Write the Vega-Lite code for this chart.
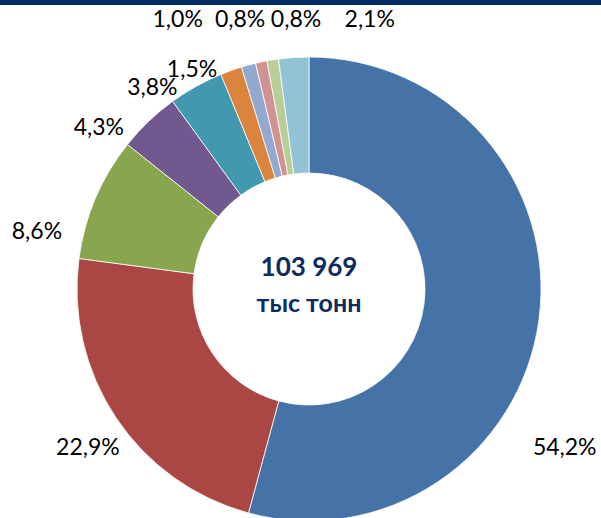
{
  "$schema": "https://vega.github.io/schema/vega-lite/v6.json",
  "autosize": {"type": "none"},
  "width": 584,
  "height": 458,
  "padding": {"left": 17, "top": 60, "right": 0, "bottom": 0},
  "background": "white",
  "config": {"view": {"stroke": null}, "text": {"font": "Lato", "fontSize": 23, "color": "#000000"}},
  "data": {
    "values": [
      {"slice": "A", "order": 1, "share": 54.2, "label": "54,2%"},
      {"slice": "B", "order": 2, "share": 22.9, "label": "22,9%"},
      {"slice": "C", "order": 3, "share": 8.6, "label": "8,6%"},
      {"slice": "D", "order": 4, "share": 4.3, "label": "4,3%"},
      {"slice": "E", "order": 5, "share": 3.8, "label": "3,8%"},
      {"slice": "F", "order": 6, "share": 1.5, "label": "1,5%"},
      {"slice": "G", "order": 7, "share": 1.0, "label": "1,0%"},
      {"slice": "H", "order": 8, "share": 0.8, "label": "0,8%"},
      {"slice": "I", "order": 9, "share": 0.8, "label": "0,8%"},
      {"slice": "J", "order": 10, "share": 2.1, "label": "2,1%"}
    ]
  },
  "layer": [
    {
      "mark": {"type": "rect", "color": "#002B60"},
      "data": {"values": [{"bar": 1}]},
      "encoding": {
        "x": {"value": -17},
        "x2": {"value": 584},
        "y": {"value": -60},
        "y2": {"value": -55}
      }
    },
    {
      "mark": {"type": "arc", "outerRadius": 232, "innerRadius": 116, "stroke": "white", "strokeWidth": 0.8},
      "encoding": {
        "theta": {"field": "share", "type": "quantitative", "stack": true},
        "order": {"field": "order", "type": "quantitative"},
        "color": {
          "field": "slice",
          "type": "nominal",
          "legend": null,
          "scale": {
            "domain": ["A", "B", "C", "D", "E", "F", "G", "H", "I", "J"],
            "range": ["#4572A7", "#AA4643", "#89A54E", "#71588F", "#4198AF", "#DB843D", "#93A9CF", "#D19392", "#B9CD96", "#92C3D5"]
          }
        }
      }
    },
    {
      "mark": {"type": "text", "radius": 262, "dx": -4, "dy": 125},
      "encoding": {
        "theta": {"field": "share", "type": "quantitative", "stack": true},
        "order": {"field": "order", "type": "quantitative"},
        "text": {"condition": {"test": "datum.slice === 'A'", "field": "label"}, "value": ""}
      }
    },
    {
      "mark": {"type": "text", "radius": 262, "dx": -3, "dy": 14},
      "encoding": {
        "theta": {"field": "share", "type": "quantitative", "stack": true},
        "order": {"field": "order", "type": "quantitative"},
        "text": {"condition": {"test": "datum.slice === 'B'", "field": "label"}, "value": ""}
      }
    },
    {
      "mark": {"type": "text", "radius": 262, "dx": -31, "dy": 46},
      "encoding": {
        "theta": {"field": "share", "type": "quantitative", "stack": true},
        "order": {"field": "order", "type": "quantitative"},
        "text": {"condition": {"test": "datum.slice === 'C'", "field": "label"}, "value": ""}
      }
    },
    {
      "mark": {"type": "text", "radius": 262, "dx": -29, "dy": 28},
      "encoding": {
        "theta": {"field": "share", "type": "quantitative", "stack": true},
        "order": {"field": "order", "type": "quantitative"},
        "text": {"condition": {"test": "datum.slice === 'D' || datum.slice === 'E' || datum.slice === 'F'", "field": "label"}, "value": ""}
      }
    },
    {
      "mark": {"type": "text", "radius": 262, "dx": -63, "dy": -16},
      "encoding": {
        "theta": {"field": "share", "type": "quantitative", "stack": true},
        "order": {"field": "order", "type": "quantitative"},
        "text": {"condition": {"test": "datum.slice === 'G'", "field": "label"}, "value": ""}
      }
    },
    {
      "mark": {"type": "text", "radius": 262, "dx": -15, "dy": -13},
      "encoding": {
        "theta": {"field": "share", "type": "quantitative", "stack": true},
        "order": {"field": "order", "type": "quantitative"},
        "text": {"condition": {"test": "datum.slice === 'H'", "field": "label"}, "value": ""}
      }
    },
    {
      "mark": {"type": "text", "radius": 262, "dx": 28, "dy": -10},
      "encoding": {
        "theta": {"field": "share", "type": "quantitative", "stack": true},
        "order": {"field": "order", "type": "quantitative"},
        "text": {"condition": {"test": "datum.slice === 'I'", "field": "label"}, "value": ""}
      }
    },
    {
      "mark": {"type": "text", "radius": 262, "dx": 78, "dy": -8},
      "encoding": {
        "theta": {"field": "share", "type": "quantitative", "stack": true},
        "order": {"field": "order", "type": "quantitative"},
        "text": {"condition": {"test": "datum.slice === 'J'", "field": "label"}, "value": ""}
      }
    },
    {
      "data": {"values": [{"total": "103 969", "unit": "тыс тонн"}]},
      "mark": {"type": "text", "fontSize": 26, "fontWeight": "bold", "color": "#0D2B5E", "baseline": "middle", "dy": -21},
      "encoding": {"text": {"field": "total"}}
    },
    {
      "data": {"values": [{"total": "103 969", "unit": "тыс тонн"}]},
      "mark": {"type": "text", "fontSize": 25, "fontWeight": "bold", "color": "#0D2B5E", "baseline": "middle", "dy": 15},
      "encoding": {"text": {"field": "unit"}}
    }
  ]
}
